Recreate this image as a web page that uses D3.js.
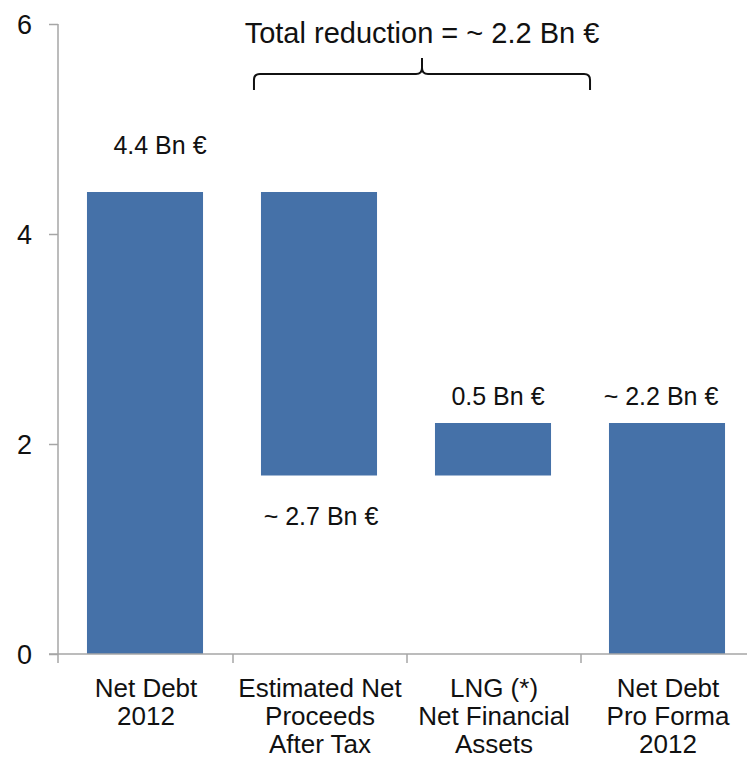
<!DOCTYPE html>
<html>
<head>
<meta charset="utf-8">
<title>Net debt bridge</title>
<style>
    body { margin: 0; background: #fff; }
    svg text { font-family: "Liberation Sans", Arial, sans-serif; fill: #111; }
</style>
</head>
<body>
<svg width="747" height="760"></svg>
<script src="https://cdnjs.cloudflare.com/ajax/libs/d3/7.8.5/d3.min.js"></script>
<script>
    // chart values
    const categories = ["Net Debt|2012", "Estimated Net|Proceeds|After Tax", "LNG (*)|Net Financial|Assets", "Net Debt|Pro Forma|2012"];
    const barStart = [0, 4.4, 1.7, 0];
    const barEnd = [4.4, 1.7, 2.2, 2.2];
    const valueLabels = ["4.4 Bn €", "~ 2.7 Bn €", "0.5 Bn €", "~ 2.2 Bn €"];
    const labelAbove = [true, false, true, true];
    const yTicks = [0, 2, 4, 6];
    const totalLabel = "Total reduction = ~ 2.2 Bn €";

    const svg = d3.select("svg");
    const margin = {left: 58, right: -7, top: 24, bottom: 106};
    const W = +svg.attr("width"), H = +svg.attr("height");

    const x = d3.scaleBand()
        .domain(categories)
        .range([margin.left, W - margin.right])
        .padding(0);
    const y = d3.scaleLinear().domain([0, 6]).range([H - margin.bottom, margin.top]);

    const barW = x.bandwidth() * 0.667;
    const barOff = (x.bandwidth() - barW) / 2;
    const axisColor = "#a6a6a6";

    // bars
    svg.append("g").selectAll("rect")
        .data(categories)
        .join("rect")
        .attr("x", d => x(d) + barOff)
        .attr("width", barW)
        .attr("y", (d, i) => y(Math.max(barStart[i], barEnd[i])))
        .attr("height", (d, i) => Math.abs(y(barStart[i]) - y(barEnd[i])))
        .attr("fill", "#4571a8");

    // y axis
    const yAxis = svg.append("g")
        .attr("transform", `translate(${margin.left},0)`)
        .call(d3.axisLeft(y).tickValues(yTicks).tickFormat(d3.format("d")).tickSize(9).tickPadding(17));
    yAxis.select(".domain").remove();
    yAxis.append("line")
        .attr("x1", 0).attr("x2", 0)
        .attr("y1", y(6)).attr("y2", y(0) + 9)
        .attr("stroke", axisColor).attr("stroke-width", 1.5);
    yAxis.selectAll(".tick line").attr("stroke", axisColor).attr("stroke-width", 1.5);
    yAxis.selectAll(".tick text").style("font-size", "27px").attr("dy", "0.36em");

    // x axis
    const xAxis = svg.append("g")
        .attr("transform", `translate(0,${y(0)})`)
        .call(d3.axisBottom(x).tickSize(0).tickFormat(""));
    xAxis.select(".domain").remove();
    xAxis.append("line")
        .attr("x1", margin.left - 9).attr("x2", W)
        .attr("stroke", axisColor).attr("stroke-width", 1.5);
    xAxis.selectAll(".sep")
        .data(categories.slice(1))
        .join("line")
        .attr("class", "sep")
        .attr("x1", d => x(d) + 1).attr("x2", d => x(d) + 1)
        .attr("y1", 0).attr("y2", 9)
        .attr("stroke", axisColor).attr("stroke-width", 1.5);

    // category labels
    svg.append("g").selectAll("text")
        .data(categories)
        .join("text")
        .attr("text-anchor", "middle")
        .style("font-size", "26px")
        .attr("transform", d => `translate(${x(d) + x.bandwidth() / 2 + 1},${y(0) + 43})`)
        .selectAll("tspan")
        .data(d => d.split("|"))
        .join("tspan")
        .attr("x", 0)
        .attr("dy", (d, i) => i === 0 ? 0 : 28)
        .text(d => d);

    // value labels
    const labelShift = [15, 2, 5, -6];
    svg.append("g").selectAll("text")
        .data(categories)
        .join("text")
        .attr("text-anchor", "middle")
        .style("font-size", "25px")
        .attr("x", (d, i) => x(d) + x.bandwidth() / 2 + labelShift[i])
        .attr("y", (d, i) => {
            const top = y(Math.max(barStart[i], barEnd[i]));
            const bot = y(Math.min(barStart[i], barEnd[i]));
            if (!labelAbove[i]) return bot + 49;
            return i === 0 ? top - 38 : top - 18;
        })
        .text((d, i) => valueLabels[i]);

    // brace over the two reduction steps
    const bx0 = x(categories[1]) + barOff - 7;
    const bx1 = x(categories[2]) + barOff + barW + 39;
    const bmid = (bx0 + bx1) / 2;
    const bTop = 74, bEnd = 90;
    const r = 6;
    const brace = d3.path();
    brace.moveTo(bx0, bEnd);
    brace.lineTo(bx0, bTop + r);
    brace.quadraticCurveTo(bx0, bTop, bx0 + r, bTop);
    brace.lineTo(bmid - r, bTop);
    brace.quadraticCurveTo(bmid, bTop, bmid, bTop - r);
    brace.lineTo(bmid, bTop - 16);
    brace.moveTo(bmid, bTop - r);
    brace.quadraticCurveTo(bmid, bTop, bmid + r, bTop);
    brace.lineTo(bx1 - r, bTop);
    brace.quadraticCurveTo(bx1, bTop, bx1, bTop + r);
    brace.lineTo(bx1, bEnd);
    svg.append("path")
        .attr("d", brace.toString())
        .attr("fill", "none")
        .attr("stroke", "#111")
        .attr("stroke-width", 2);

    svg.append("text")
        .attr("x", bmid)
        .attr("y", 43)
        .attr("text-anchor", "middle")
        .style("font-size", "29px")
        .text(totalLabel);
</script>
</body>
</html>
